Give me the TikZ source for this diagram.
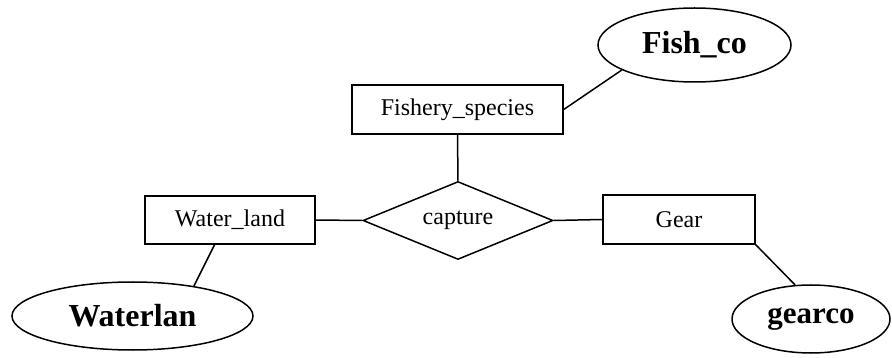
\documentclass[tikz,border=0pt]{standalone}
\usepackage{fontspec}
\setmainfont{Liberation Serif}
\usetikzlibrary{shapes.geometric}
\tikzset{
  ent/.style={draw, rectangle, line width=1.5pt, inner sep=0pt, font=\fontsize{24}{28}\selectfont},
  attr/.style={draw, ellipse, line width=1.5pt, inner sep=0pt, font=\fontsize{32}{36}\selectfont\bfseries},
  rel/.style={draw, diamond, aspect=2.44, line width=1.5pt, inner sep=0pt, font=\fontsize{24}{28}\selectfont},
  conn/.style={line width=1.5pt}
}
\begin{document}
\begin{tikzpicture}[x=1pt,y=-1pt]
\useasboundingbox (0,0) rectangle (892,358);
\node[ent, minimum width=211pt, minimum height=49pt] (fs) at (457.5,109.5) {Fishery\_species};
\node[attr, minimum width=193pt, minimum height=74pt] (fish) at (694.5,45) {Fish\_co};
\node[rel, minimum width=190pt, minimum height=78pt] (cap) at (458,220.5) {capture};
\node[ent, minimum width=170pt, minimum height=48pt] (wl) at (230,220) {Water\_land};
\node[ent, minimum width=152pt, minimum height=49pt] (gear) at (679,219.5) {Gear};
\node[attr, minimum width=241pt, minimum height=68pt] (wln) at (132.5,316) {Waterlan};
\node[attr, minimum width=158pt, minimum height=68pt, font=\fontsize{31}{35}\selectfont\bfseries] (gc) at (811,319) {gearco};
\draw[conn] (fs.south) -- (cap.north);
\draw[conn] (fs.east) -- (fish.199);
\draw[conn] (wl.east) -- (cap.west);
\draw[conn] (cap.east) -- (gear.west);
\draw[conn] (wl.238) -- (wln.26);
\draw[conn] (gear.south east) -- (gc.115);
\end{tikzpicture}
\end{document}
